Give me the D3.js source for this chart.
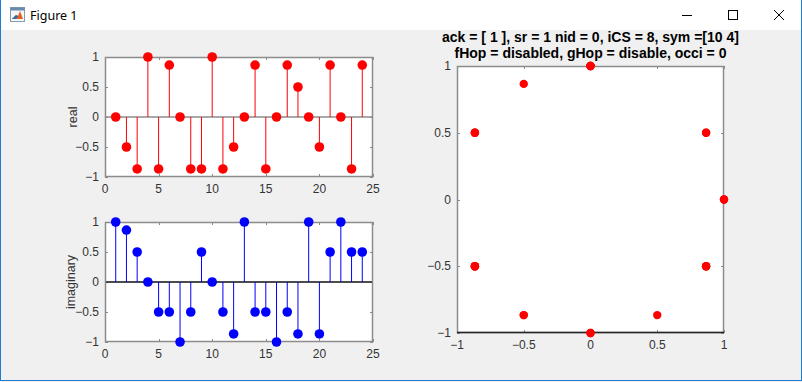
<!DOCTYPE html>
<html><head><meta charset="utf-8">
<script src="https://cdn.jsdelivr.net/npm/d3@7/dist/d3.min.js"></script>
<style>
html,body{margin:0;padding:0;background:#fff;}
svg{display:block;}
</style></head><body>
<svg id="c" width="802" height="382"></svg>
<script>
const n = d3.range(1, 25);
const realVals = [0, -0.5, -0.866, 1, -0.866, 0.866, 0, -0.866, -0.866, 1, -0.866, -0.5,
                  0, 0.866, -0.866, 0, 0.866, 0.5, 0, -0.5, 0.866, 0, -0.866, 0.866];
const imagVals = [1, 0.866, 0.5, 0, -0.5, -0.5, -1, -0.5, 0.5, 0, -0.5, -0.866,
                  1, -0.5, -0.5, -1, -0.5, -0.866, 1, -0.866, 0.5, 1, 0.5, 0.5];
const stemXTicks = [0, 5, 10, 15, 20, 25];
const stemYTicks = [-1, -0.5, 0, 0.5, 1];
const iqTicks = [-1, -0.5, 0, 0.5, 1];
const titleLines = ["ack = [ 1 ], sr = 1 nid = 0, iCS = 8, sym =[10 4]",
                    "fHop = disabled, gHop = disable, occi = 0"];
const windowTitle = "Figure 1";

const svg = d3.select("#c");
const W = 802, H = 382;
const FONT = "'Liberation Sans', Arial, sans-serif";
const boxColor = "#8c8c8c", textColor = "#333";

// window chrome
svg.append("rect").attr("x",0).attr("y",0).attr("width",W).attr("height",H).attr("fill","#f0f0f0");
svg.append("rect").attr("x",0).attr("y",0).attr("width",W).attr("height",30).attr("fill","#ffffff");
svg.append("rect").attr("x",0.5).attr("y",-1).attr("width",W-1).attr("height",H-0.5)
  .attr("fill","none").attr("stroke","#1a7fd4").attr("stroke-width",1);
// icon
const ic = svg.append("g").attr("transform","translate(10,7)");
ic.append("rect").attr("x",0.5).attr("y",0.5).attr("width",14).attr("height",14).attr("fill","#f4f6f8").attr("stroke","#8a9aaa");
ic.append("rect").attr("x",0.5).attr("y",0.5).attr("width",14).attr("height",3).attr("fill","#6a8ab0");
ic.append("path").attr("d","M2,12 L6,8 L8,9 L10,4 L13,12 Z").attr("fill","#e06020");
ic.append("path").attr("d","M2,12 L6,8 L8,9 L6,12 Z").attr("fill","#2a6ab0");
svg.append("text").attr("x",30).attr("y",20).text(windowTitle)
  .attr("font-family","'Noto Sans','DejaVu Sans',sans-serif").attr("font-size",12.5).attr("fill","#000");
// window buttons
svg.append("line").attr("x1",682).attr("x2",692).attr("y1",15.5).attr("y2",15.5).attr("stroke","#000");
svg.append("rect").attr("x",728.5).attr("y",10.5).attr("width",9).attr("height",9).attr("fill","none").attr("stroke","#000");
svg.append("path").attr("d","M774,10 L784,20 M784,10 L774,20").attr("stroke","#000").attr("fill","none");

const TICKFS = 12;
function drawAxes(g, x, y, xt, yt) {
  const [x0,x1] = x.range(), [y0,y1] = y.range(); // y0 bottom, y1 top
  g.append("rect").attr("x",x0).attr("y",y1).attr("width",x1-x0).attr("height",y0-y1).attr("fill","#fff");
  const tl = 3;
  xt.forEach(t => {
    const px = Math.round(x(t))+0.5;
    g.append("line").attr("x1",px).attr("x2",px).attr("y1",y0).attr("y2",y0-tl).attr("stroke",boxColor);
    g.append("line").attr("x1",px).attr("x2",px).attr("y1",y1).attr("y2",y1+tl).attr("stroke",boxColor);
    g.append("text").attr("x",x(t)).attr("y",y0+16).attr("text-anchor","middle")
      .attr("font-family",FONT).attr("font-size",TICKFS).attr("fill",textColor).text(d3.format("")(t));
  });
  yt.forEach(t => {
    const py = Math.round(y(t))+0.5;
    g.append("line").attr("x1",x0).attr("x2",x0+tl).attr("y1",py).attr("y2",py).attr("stroke",boxColor);
    g.append("line").attr("x1",x1).attr("x2",x1-tl).attr("y1",py).attr("y2",py).attr("stroke",boxColor);
    g.append("text").attr("x",x0-6).attr("y",y(t)+4).attr("text-anchor","end")
      .attr("font-family",FONT).attr("font-size",TICKFS).attr("fill",textColor).text(d3.format("")(t));
  });
}
function drawBox(g, x, y, bottomColor) {
  const [x0,x1] = x.range(), [y0,y1] = y.range();
  g.append("rect").attr("x",x0+0.5).attr("y",y1+0.5).attr("width",x1-x0-1).attr("height",y0-y1-1)
    .attr("fill","none").attr("stroke",boxColor).attr("stroke-width",1.5);
  if (bottomColor) g.append("line").attr("x1",x0).attr("x2",x1).attr("y1",y0-0.5).attr("y2",y0-0.5)
    .attr("stroke",bottomColor).attr("stroke-width",1.5);
}

function stemPlot(top, bottom, vals, color, baseColor, label, labelX) {
  const g = svg.append("g");
  const x = d3.scaleLinear().domain([0,25]).range([105,373]);
  const y = d3.scaleLinear().domain([-1,1]).range([bottom, top]);
  drawAxes(g, x, y, stemXTicks, stemYTicks);
  g.append("line").attr("x1",x(0)).attr("x2",x(25)).attr("y1",y(0)).attr("y2",y(0))
    .attr("stroke",baseColor).attr("stroke-width",1.5);
  g.selectAll(".s").data(vals).enter().append("line")
    .attr("x1",(d,i)=>x(n[i])).attr("x2",(d,i)=>x(n[i]))
    .attr("y1",y(0)).attr("y2",d=>y(d)).attr("stroke",color).attr("stroke-width",1);
  drawBox(g, x, y, null);
  g.selectAll(".m").data(vals).enter().append("circle")
    .attr("cx",(d,i)=>x(n[i])).attr("cy",d=>y(d)).attr("r",4.8).attr("fill",color);
  g.append("text").attr("transform",`translate(${labelX},${(top+bottom)/2}) rotate(-90)`)
    .attr("text-anchor","middle").attr("font-family",FONT).attr("font-size",12.5).attr("fill",textColor).text(label);
}
stemPlot(57, 177, realVals, "#ff0000", "#8c8c8c", "real", 77);
stemPlot(222, 342, imagVals, "#0000ff", "#111", "imaginary", 75);

// IQ scatter
{
  const g = svg.append("g");
  const x = d3.scaleLinear().domain([-1,1]).range([457,724]);
  const y = d3.scaleLinear().domain([-1,1]).range([333,66]);
  drawAxes(g, x, y, iqTicks, iqTicks);
  drawBox(g, x, y, "#262626");
  g.selectAll(".p").data(realVals).enter().append("circle")
    .attr("cx",d=>x(d)).attr("cy",(d,i)=>y(imagVals[i])).attr("r",4.2).attr("fill","#ff0000");
  titleLines.forEach((t,i) => {
    g.append("text").attr("x",(457+724)/2).attr("y",42+i*16).attr("text-anchor","middle")
      .attr("font-family",FONT).attr("font-weight","bold").attr("font-size",14).attr("fill","#000").text(t);
  });
}
</script>
</body></html>
